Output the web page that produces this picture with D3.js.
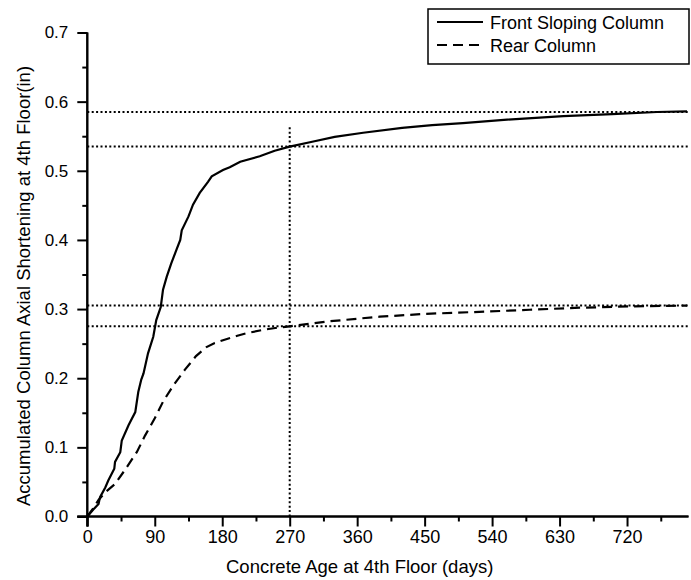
<!DOCTYPE html>
<html>
<head>
<meta charset="utf-8">
<script src="https://cdn.jsdelivr.net/npm/d3@7"></script>
<style>
  body { margin: 0; background: #fff; }
  svg { display: block; font-family: Arial, "Liberation Sans", sans-serif; }
</style>
</head>
<body>
<div id="chart"></div>
<script>
// Front sloping column (solid)
const frontDays = [0, 8, 15, 17, 24, 28, 36, 37, 44, 46, 55, 64, 68, 72, 75, 81, 88, 92, 98, 101, 106, 112, 119, 124, 126, 135, 141, 150, 161, 166, 181, 190, 204, 230, 250, 270, 300, 330, 368, 420, 460, 501, 560, 635, 700, 760, 800];
const frontVals = [0, 0.01, 0.018, 0.028, 0.042, 0.052, 0.069, 0.079, 0.093, 0.110, 0.132, 0.151, 0.18, 0.198, 0.207, 0.236, 0.26, 0.284, 0.303, 0.328, 0.347, 0.366, 0.386, 0.40, 0.414, 0.434, 0.451, 0.468, 0.484, 0.492, 0.501, 0.505, 0.513, 0.521, 0.529, 0.535, 0.542, 0.549, 0.555, 0.562, 0.566, 0.569, 0.574, 0.579, 0.582, 0.585, 0.586];

// Rear column (dashed)
const rearDays = [0, 8, 15, 24, 37, 50, 66, 77, 90, 101, 115, 130, 145, 159, 170, 181, 199, 212, 235, 253, 270, 320, 390, 450, 523, 590, 657, 730, 800];
const rearVals = [0, 0.012, 0.024, 0.035, 0.047, 0.067, 0.093, 0.117, 0.142, 0.166, 0.19, 0.212, 0.232, 0.245, 0.251, 0.255, 0.261, 0.265, 0.27, 0.273, 0.275, 0.282, 0.289, 0.293, 0.296, 0.299, 0.302, 0.304, 0.305];

// dotted guide lines
const guideY = [0.585, 0.535, 0.305, 0.275];
const guideX = 270;
const guideXTop = 0.563;

const xTicks = [0, 90, 180, 270, 360, 450, 540, 630, 720];
const yTicks = [0.0, 0.1, 0.2, 0.3, 0.4, 0.5, 0.6, 0.7];
const xMax = 802;

const seriesNames = ["Front Sloping Column", "Rear Column"];

(function () {
  const W = 691, H = 580;
  const x = d3.scaleLinear().domain([0, xMax]).range([87.3, 688.5]);
  const y = d3.scaleLinear().domain([0, 0.7]).range([516.5, 32.5]);

  const svg = d3.select("#chart").append("svg")
    .attr("width", W).attr("height", H);

  // guide lines (dotted)
  guideY.forEach(v => {
    svg.append("line")
      .attr("x1", x(0)).attr("x2", x(xMax))
      .attr("y1", y(v)).attr("y2", y(v))
      .attr("stroke", "#000").attr("stroke-width", 2)
      .attr("stroke-dasharray", "2,2.4");
  });
  svg.append("line")
    .attr("x1", x(guideX)).attr("x2", x(guideX))
    .attr("y1", y(0)).attr("y2", y(guideXTop))
    .attr("stroke", "#000").attr("stroke-width", 2)
    .attr("stroke-dasharray", "2,2.4");

  // curves
  const line = d3.line().x(d => x(d[0])).y(d => y(d[1]));
  svg.append("path")
    .datum(frontDays.map((d, i) => [d, frontVals[i]]))
    .attr("fill", "none").attr("stroke", "#000").attr("stroke-width", 2.2)
    .attr("d", line);
  svg.append("path")
    .datum(rearDays.map((d, i) => [d, rearVals[i]]))
    .attr("fill", "none").attr("stroke", "#000").attr("stroke-width", 2.2)
    .attr("stroke-dasharray", "10,6")
    .attr("d", line);

  // axes
  const xAxis = svg.append("g").attr("transform", `translate(0,${y(0)})`);
  xAxis.call(d3.axisBottom(x).tickValues(d3.range(45, xMax, 90)).tickSize(5).tickFormat(""));
  xAxis.append("g").call(d3.axisBottom(x).tickValues(xTicks).tickSize(10).tickPadding(4)
    .tickFormat(d3.format("d")));
  xAxis.selectAll("path.domain").attr("d", `M${x(0) - 10},0H${x(xMax)}`);

  const yAxis = svg.append("g").attr("transform", `translate(${x(0)},0)`);
  yAxis.call(d3.axisLeft(y).tickValues(d3.range(0.05, 0.7, 0.1)).tickSize(5).tickFormat(""));
  yAxis.append("g").call(d3.axisLeft(y).tickValues(yTicks).tickSize(10).tickPadding(9)
    .tickFormat(d3.format(".1f")));
  yAxis.selectAll("path.domain").attr("d", `M0,${y(0) + 10}V${y(0.7)}`);

  svg.selectAll(".domain, .tick line").attr("stroke", "#000").attr("stroke-width", 2);
  xAxis.selectAll(".tick text").style("font-size", "18px").attr("fill", "#000");
  yAxis.selectAll(".tick text").style("font-size", "17px").attr("fill", "#000");

  // axis titles
  svg.append("text")
    .attr("x", 226).attr("y", 573)
    .style("font-size", "18.5px")
    .text("Concrete Age at 4th Floor (days)");

  svg.append("text")
    .attr("transform", "translate(30,286) rotate(-90)")
    .attr("text-anchor", "middle")
    .style("font-size", "18.5px")
    .text("Accumulated Column Axial Shortening at 4th Floor(in)");

  // legend
  const lg = svg.append("g");
  lg.append("rect")
    .attr("x", 428).attr("y", 9).attr("width", 261).attr("height", 55)
    .attr("fill", "#fff").attr("stroke", "#000").attr("stroke-width", 1.5);
  const dashes = [null, "10,6"];
  seriesNames.forEach((name, i) => {
    const ly = 22 + i * 23;
    lg.append("line")
      .attr("x1", 437).attr("x2", 483).attr("y1", ly).attr("y2", ly)
      .attr("stroke", "#000").attr("stroke-width", 2)
      .attr("stroke-dasharray", dashes[i]);
    lg.append("text")
      .attr("x", 490).attr("y", ly + 6.5)
      .style("font-size", "18px")
      .text(name);
  });
})();
</script>
</body>
</html>
